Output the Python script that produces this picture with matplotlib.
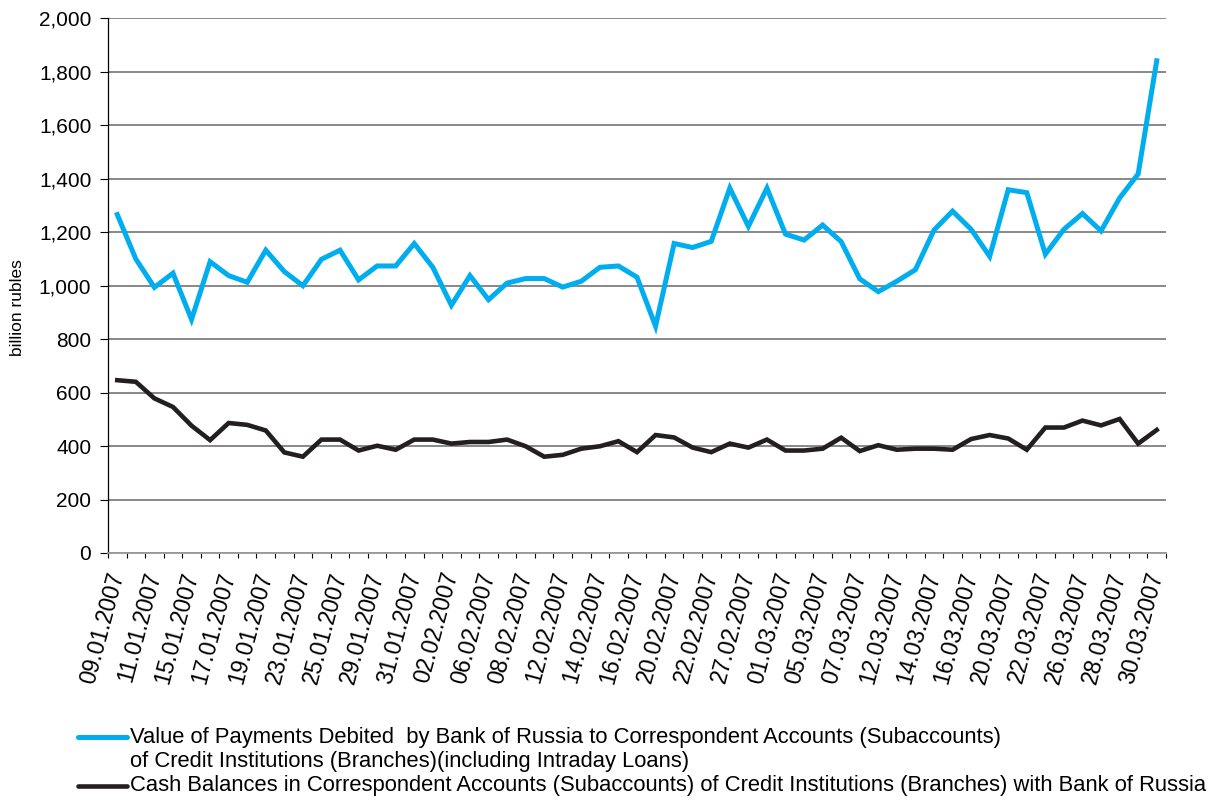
import matplotlib
matplotlib.use("Agg")
import matplotlib.pyplot as plt
from matplotlib.lines import Line2D
from matplotlib.ticker import FuncFormatter, MultipleLocator

plt.rcParams['font.family'] = ['Liberation Sans', 'DejaVu Sans']

dates = ["09.01.2007", "10.01.2007", "11.01.2007", "12.01.2007", "15.01.2007", "16.01.2007",
         "17.01.2007", "18.01.2007", "19.01.2007", "22.01.2007", "23.01.2007", "24.01.2007",
         "25.01.2007", "26.01.2007", "29.01.2007", "30.01.2007", "31.01.2007", "01.02.2007",
         "02.02.2007", "05.02.2007", "06.02.2007", "07.02.2007", "08.02.2007", "09.02.2007",
         "12.02.2007", "13.02.2007", "14.02.2007", "15.02.2007", "16.02.2007", "19.02.2007",
         "20.02.2007", "21.02.2007", "22.02.2007", "26.02.2007", "27.02.2007", "28.02.2007",
         "01.03.2007", "02.03.2007", "05.03.2007", "06.03.2007", "07.03.2007", "09.03.2007",
         "12.03.2007", "13.03.2007", "14.03.2007", "15.03.2007", "16.03.2007", "19.03.2007",
         "20.03.2007", "21.03.2007", "22.03.2007", "23.03.2007", "26.03.2007", "27.03.2007",
         "28.03.2007", "29.03.2007", "30.03.2007"]

payments = [1265, 1099, 993, 1046, 873, 1089, 1037, 1012, 1132, 1052,
            999, 1098, 1132, 1021, 1073, 1073, 1157, 1068, 926, 1037,
            947, 1009, 1026, 1026, 994, 1016, 1068, 1073, 1031, 848,
            1157, 1142, 1165, 1364, 1221, 1364, 1192, 1170, 1226, 1164,
            1025, 977, 1016, 1059, 1207, 1278, 1210, 1109, 1358, 1347,
            1117, 1210, 1269, 1204, 1327, 1417, 1840]

balances = [646, 640, 578, 546, 476, 422, 486, 479, 458, 376,
            360, 424, 424, 383, 401, 386, 424, 424, 409, 415,
            415, 424, 399, 360, 367, 390, 399, 418, 377, 441,
            432, 394, 377, 409, 394, 424, 383, 383, 390, 431,
            381, 403, 386, 390, 390, 386, 426, 441, 428, 386,
            469, 469, 495, 477, 501, 409, 460]

label_pay = ("Value of Payments Debited  by Bank of Russia to Correspondent Accounts (Subaccounts)\n"
             "of Credit Institutions (Branches)(including Intraday Loans)")
label_bal = "Cash Balances in Correspondent Accounts (Subaccounts) of Credit Institutions (Branches) with Bank of Russia"
ylabel = "billion rubles"

c_pay = "#00AEEF"
c_bal = "#231F20"

fig = plt.figure(figsize=(12.12, 8.0), dpi=100)
ax = fig.add_axes([108/1212, 1-553/800, 1058/1212, 535/800])

x = list(range(len(dates)))
ax.plot(x, payments, color=c_pay, lw=3.6, solid_joinstyle='miter', zorder=3)
ax.plot(x, balances, color=c_bal, lw=3.3, solid_joinstyle='miter', zorder=3)

ax.set_xlim(-0.5, len(dates) - 0.5)
ax.set_ylim(0, 2000)
ax.yaxis.set_major_locator(MultipleLocator(200))
ax.yaxis.set_major_formatter(FuncFormatter(lambda v, p: f"{int(v):,}"))
ax.grid(axis='y', color='#7f7f7f', lw=1.3, zorder=1)
ax.set_axisbelow(True)

# x ticks: minor at category boundaries (marks), labels every other category
ax.set_xticks([i - 0.5 for i in range(len(dates) + 1)], minor=True)
ax.set_xticks(x[::2])
ax.set_xticklabels(dates[::2], rotation=75, ha='right', va='center',
                   rotation_mode='anchor', fontsize=16.5)
ax.tick_params(axis='x', which='major', length=0, pad=14)
ax.tick_params(axis='x', which='minor', length=3.6, width=0.8, direction='out', color='black')
ax.tick_params(axis='y', length=6, width=0.8, direction='out', labelsize=15, pad=6)

for s in ['top', 'right']:
    ax.spines[s].set_visible(False)
ax.spines['left'].set_color('black')
ax.spines['left'].set_linewidth(0.9)
ax.spines['bottom'].set_color('#9a9a9a')
ax.spines['bottom'].set_linewidth(1.3)

ax.set_ylabel(ylabel, fontsize=12.5)
ax.yaxis.set_label_coords(-0.078, 0.458)

# legend drawn below the plot
def fx(px):
    return px / 1212
def fy(py):
    return 1 - py / 800

fig.add_artist(Line2D([fx(78), fx(127)], [fy(737), fy(737)], color=c_pay, lw=3.6,
                      solid_capstyle='round', transform=fig.transFigure))
fig.add_artist(Line2D([fx(78), fx(127)], [fy(786), fy(786)], color=c_bal, lw=3.3,
                      solid_capstyle='round', transform=fig.transFigure))
fig.text(fx(130), fy(737), label_pay.split("\n")[0], fontsize=15.8, va='center', ha='left')
fig.text(fx(130), fy(761), label_pay.split("\n")[1], fontsize=15.8, va='center', ha='left')
fig.text(fx(130), fy(786), label_bal, fontsize=15.8, va='center', ha='left')

fig.savefig("out.png", dpi=100)
